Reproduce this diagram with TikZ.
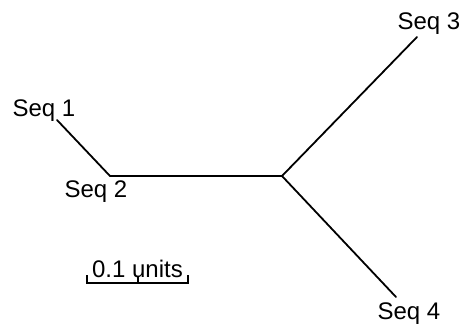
\documentclass[tikz,border=0pt]{standalone}
\usepackage{fontspec}
\setmainfont{Liberation Sans}
\begin{document}
\begin{tikzpicture}[x=1pt,y=-1pt,
  branch/.style={line width=1.8pt, line cap=round, line join=round},
  leaf/.style={inner sep=0pt, anchor=base, font=\fontsize{24}{28}\selectfont}]
\useasboundingbox (0,0) rectangle (466,324);
% tree vertices
\coordinate (t1) at (57,120);
\coordinate (n2) at (110,176);
\coordinate (c) at (282,176);
\coordinate (t3) at (417,37);
\coordinate (t4) at (396,297);
% branches
\draw[branch] (t1) -- (n2) -- (c) -- (t3);
\draw[branch] (c) -- (t4);
% leaf labels
\node[leaf] (l1) at (44,116) {Seq 1};
\node[leaf] (l2) at (96,197) {Seq 2};
\node[leaf] (l3) at (429,29) {Seq 3};
\node[leaf] (l4) at (409,319) {Seq 4};
% scale bar with end and middle ticks
\coordinate (s0) at (87,283);
\coordinate (s1) at (188,283);
\coordinate (sm) at (138,283);
\draw[line width=1.5pt] ([yshift=8]s0) -- (s0) -- (s1) -- ([yshift=8]s1);
\draw[line width=1.5pt] (sm) -- ([yshift=7]sm);
\node[leaf] (sl) at (137.5,277) {0.1 units};
\end{tikzpicture}
\end{document}
